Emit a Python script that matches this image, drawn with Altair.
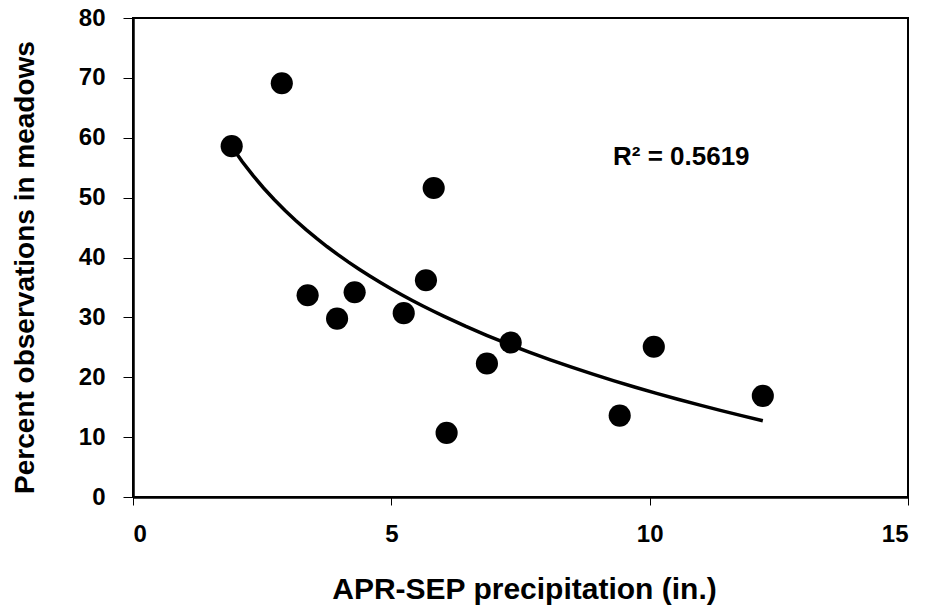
import altair as alt
import pandas as pd

# Data
precip = [1.91, 2.88, 3.38, 3.95, 4.29, 5.24, 5.67, 5.82, 6.07, 6.85, 7.31, 9.42, 10.08, 12.19]
percent = [58.6, 69.1, 33.7, 29.8, 34.2, 30.7, 36.2, 51.6, 10.7, 22.3, 25.8, 13.6, 25.1, 16.9]

x_ticks = [0, 5, 10, 15]
y_ticks = [0, 10, 20, 30, 40, 50, 60, 70, 80]

r2_label = ["R\u00b2 = 0.5619"]
r2_x = [9.29]
r2_y = [55.45]

FONT = "Liberation Sans"

df = pd.DataFrame({"precip": precip, "percent": percent})
ann = pd.DataFrame({"precip": r2_x, "percent": r2_y, "label": r2_label})

x_enc = alt.X(
    "precip:Q",
    scale=alt.Scale(domain=[0, 15], nice=False, zero=False),
    axis=alt.Axis(
        values=x_ticks,
        title="APR-SEP precipitation (in.)",
        tickSize=8,
        labelPadding=17,
        titleFontSize=30,
        titleBaseline="alphabetic",
        titleAlign="center",
        titleX=391,
        titleY=101,
    ),
)
y_enc = alt.Y(
    "percent:Q",
    scale=alt.Scale(domain=[0, 80], nice=False, zero=False),
    axis=alt.Axis(
        values=y_ticks,
        title="Percent observations in meadows",
        tickSize=10,
        labelPadding=18,
        titleFontSize=28,
        titleAngle=-90,
        titleBaseline="alphabetic",
        titleAlign="center",
        titleX=-100,
        titleY=249,
    ),
)

trend = (
    alt.Chart(df)
    .transform_regression("precip", "percent", method="log")
    .mark_line(color="black", strokeWidth=3.5)
    .encode(x=x_enc, y=y_enc)
)

points = (
    alt.Chart(df)
    .mark_circle(size=490, color="black", opacity=1)
    .encode(x=x_enc, y=y_enc)
)

label = (
    alt.Chart(ann)
    .mark_text(
        align="left",
        baseline="alphabetic",
        font=FONT,
        fontSize=26,
        fontWeight="bold",
        color="black",
    )
    .encode(x=x_enc, y=y_enc, text="label:N")
)

chart = (
    alt.layer(trend, points, label)
    .properties(
        width=775,
        height=479,
        autosize=alt.AutoSizeParams(type="none"),
        padding={"left": 133, "top": 18, "right": 20, "bottom": 109},
        background="white",
    )
    .configure_view(stroke="black", strokeWidth=2)
    .configure_axis(
        grid=False,
        domainColor="black",
        domainWidth=2.5,
        tickColor="black",
        tickWidth=1,
        labelFont=FONT,
        labelFontSize=24,
        labelFontWeight="bold",
        labelColor="black",
        titleFont=FONT,
        titleFontWeight="bold",
        titleColor="black",
    )
)

chart.save("out.html", embed_options={"renderer": "svg", "actions": False})
